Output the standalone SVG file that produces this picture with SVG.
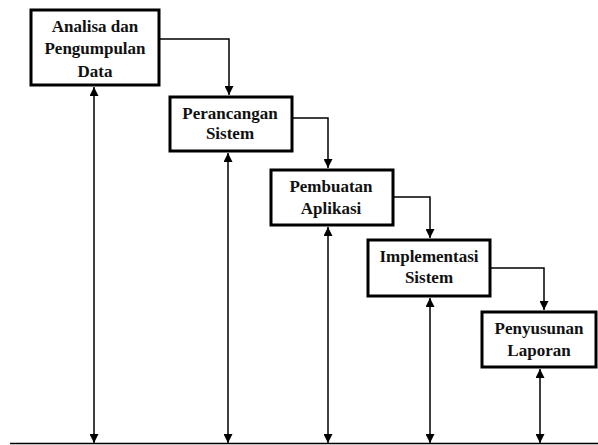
<svg xmlns="http://www.w3.org/2000/svg" width="598" height="445" viewBox="0 0 598 445">
<defs>
<marker id="ah" viewBox="0 0 10 10" refX="10" refY="5" markerWidth="9" markerHeight="9" markerUnits="userSpaceOnUse" orient="auto-start-reverse">
<path d="M0,0 L10,5 L0,10 z" fill="#000"/>
</marker>
<style>
.box{fill:#fff;stroke:#000;stroke-width:3}
.c{fill:none;stroke:#000;stroke-width:1.5}
</style>
</defs>
<rect width="598" height="445" fill="#fff"/>
<g id="connectors">
<path class="c" d="M159,39 H229 V95" marker-end="url(#ah)"/>
<path class="c" d="M292,118 H328 V168" marker-end="url(#ah)"/>
<path class="c" d="M393,197 H430 V238" marker-end="url(#ah)"/>
<path class="c" d="M490,268 H544 V310" marker-end="url(#ah)"/>
<path class="c" d="M94,87 V443" marker-start="url(#ah)" marker-end="url(#ah)"/>
<path class="c" d="M228,153 V443" marker-start="url(#ah)" marker-end="url(#ah)"/>
<path class="c" d="M328,227 V443" marker-start="url(#ah)" marker-end="url(#ah)"/>
<path class="c" d="M430,298 V443" marker-start="url(#ah)" marker-end="url(#ah)"/>
<path class="c" d="M540,369 V443" marker-start="url(#ah)" marker-end="url(#ah)"/>
<line x1="10" y1="443.5" x2="598" y2="443.5" stroke="#000" stroke-width="1.5"/>
</g>
<g font-family="Liberation Serif, Times New Roman, serif" font-weight="700" font-size="17" text-anchor="middle" fill="#111">
<g id="n1">
<rect class="box" x="31" y="10" width="128" height="75"/>
<text x="95" y="32">Analisa dan</text>
<text x="95" y="54">Pengumpulan</text>
<text x="95" y="77">Data</text>
</g>
<g id="n2">
<rect class="box" x="170" y="97" width="122" height="54"/>
<text x="230" y="119">Perancangan</text>
<text x="230" y="139">Sistem</text>
</g>
<g id="n3">
<rect class="box" x="271" y="170" width="122" height="55"/>
<text x="331" y="192">Pembuatan</text>
<text x="331" y="214">Aplikasi</text>
</g>
<g id="n4">
<rect class="box" x="368" y="240" width="122" height="56"/>
<text x="429" y="262">Implementasi</text>
<text x="429" y="283">Sistem</text>
</g>
<g id="n5">
<rect class="box" x="482" y="312" width="114" height="55"/>
<text x="539" y="334">Penyusunan</text>
<text x="539" y="356">Laporan</text>
</g>
</g>
</svg>
